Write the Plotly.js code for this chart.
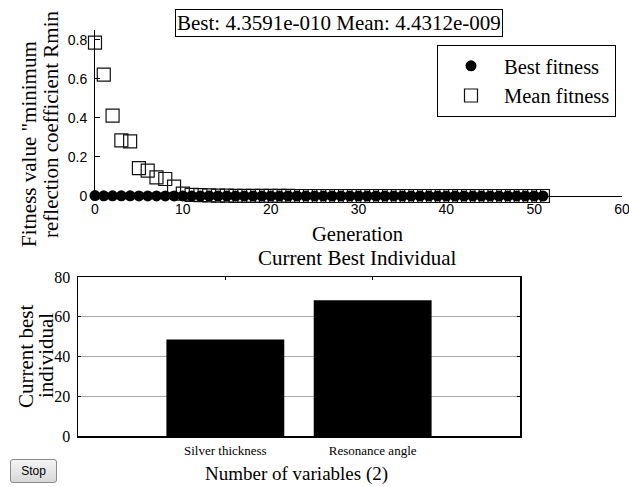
<!DOCTYPE html>
<html><head><meta charset="utf-8">
<script src="https://cdn.plot.ly/plotly-3.0.1.min.js"></script>
<style>
html,body{margin:0;padding:0;background:#fff;overflow:hidden;}
#chart{width:629px;height:487px;position:absolute;left:0;top:0;}
#stop{position:absolute;left:10px;top:459px;width:47px;height:24px;font:12px "Liberation Sans",Arial,sans-serif;background:linear-gradient(#f4f4f4,#d8d8d8);border:1px solid #8a8a8a;border-radius:3px;padding:0;}
</style></head>
<body>
<div id="chart"></div>
<button id="stop">Stop</button>
<script>
const generations = [0,1,2,3,4,5,6,7,8,9,10,11,12,13,14,15,16,17,18,19,20,21,22,23,24,25,26,27,28,29,30,31,32,33,34,35,36,37,38,39,40,41,42,43,44,45,46,47,48,49,50,51];
const bestFitness = [0.002,0.001,0.001,0.001,0.0008,0.0006,0.0005,0.0004,0.0003,0.0002,0.0001,0.0001,0.00005,0.00003,0.00002,0.00001,0.00001,0.000005,0.000003,0.000002,0.000001,0.000001,0.0000005,0.0000003,0.0000002,0.0000001,0.0000001,0.00000005,0.00000003,0.00000002,0.00000001,0.00000001,0.000000005,0.000000004,0.000000003,0.000000002,0.000000002,0.000000001,0.000000001,0.000000001,0.0000000009,0.0000000008,0.0000000007,0.0000000006,0.0000000006,0.0000000005,0.0000000005,0.0000000005,0.00000000045,0.00000000044,0.00000000044,0.00000000043591];
const meanFitness = [0.785,0.622,0.412,0.285,0.28,0.143,0.13,0.095,0.087,0.048,0.012,0.006,0.004,0.003,0.002,0.0015,0.001,0.0008,0.0006,0.0005,0.0004,0.0003,0.0002,0.0001,0.0001,0.00008,0.00006,0.00005,0.00004,0.00003,0.00002,0.00001,0.00001,0.000008,0.000006,0.000005,0.000004,0.000003,0.000002,0.000001,0.000001,0.0000008,0.0000006,0.0000005,0.0000004,0.0000003,0.0000002,0.0000001,0.00000005,0.00000002,0.00000001,0.0000000044312];
const variableNames = ["Silver thickness","Resonance angle"];
const bestIndividual = [48.5,68.3];
const titleText = "Best: 4.3591e-010 Mean: 4.4312e-009";

const serif = '"Liberation Serif","Times New Roman",Times,serif';
const sans = '"Liberation Sans",Arial,sans-serif';
const W = 629, H = 487;
const fx = p => p / W, fy = p => 1 - p / H;

const traces = [
  {x: generations, y: meanFitness, type: 'scatter', mode: 'markers', name: 'Mean fitness',
   legendrank: 2, xaxis: 'x', yaxis: 'y', cliponaxis: false,
   marker: {symbol: 'square-open', size: 13, color: '#111', line: {width: 1.2}}},
  {x: generations, y: bestFitness, type: 'scatter', mode: 'markers', name: 'Best fitness',
   legendrank: 1, xaxis: 'x', yaxis: 'y', cliponaxis: false,
   marker: {symbol: 'circle', size: 11, color: '#000', line: {width: 0}}},
  {x: variableNames, y: bestIndividual, type: 'bar', showlegend: false,
   xaxis: 'x2', yaxis: 'y2', width: 0.8, marker: {color: '#000', line: {width: 0}}}
];

const layout = {
  width: W, height: H,
  margin: {l: 0, r: 0, t: 0, b: 0},
  paper_bgcolor: '#fff', plot_bgcolor: 'rgba(0,0,0,0)',
  showlegend: true,
  legend: {x: fx(616), xanchor: 'right', y: fy(45), yanchor: 'top',
           bordercolor: '#000', borderwidth: 1, bgcolor: '#fff',
           font: {family: serif, size: 20.5, color: '#000'}, itemwidth: 56},
  xaxis: {domain: [fx(95), fx(622)], range: [0, 60], anchor: 'y',
          tickvals: [0,10,20,30,40,50,60], showgrid: false, zeroline: false,
          showline: true, linecolor: '#000', linewidth: 1,
          ticks: 'inside', ticklen: 4, tickcolor: '#000', ticklabeloverflow: 'allow',
          tickfont: {family: sans, size: 14, color: '#000'}},
  yaxis: {domain: [fy(196), fy(30)], range: [0, 0.85], anchor: 'x',
          tickvals: [0,0.2,0.4,0.6,0.8], ticktext: ['0','0.2','0.4','0.6','0.8'],
          showgrid: false, zeroline: false,
          showline: true, linecolor: '#000', linewidth: 1,
          ticks: 'inside', ticklen: 5, tickcolor: '#000', ticklabelstandoff: 4,
          tickfont: {family: sans, size: 14, color: '#000'}},
  xaxis2: {domain: [fx(78), fx(520)], range: [-1, 2], anchor: 'y2', type: 'category',
           showgrid: false, zeroline: false, showline: true, mirror: 'ticks',
           linecolor: '#000', linewidth: 1.5, ticks: 'inside', ticklen: 3, tickcolor: '#000',
           ticklabelstandoff: 2,
           tickfont: {family: serif, size: 13, color: '#000'}},
  yaxis2: {domain: [fy(436), fy(277)], range: [0, 80], anchor: 'x2',
           tickvals: [0,20,40,60,80], showgrid: true, gridcolor: '#a8a8a8', gridwidth: 1,
           zeroline: false, showline: true, mirror: 'ticks', linecolor: '#000', linewidth: 1.5,
           ticks: 'inside', ticklen: 3, tickcolor: '#000', ticklabelstandoff: 3,
           tickfont: {family: serif, size: 16, color: '#000'}},
  annotations: [
    {text: titleText, xref: 'paper', yref: 'paper', x: fx(339), y: fy(23),
     xanchor: 'center', yanchor: 'middle', showarrow: false,
     font: {family: serif, size: 21, color: '#000'}, bordercolor: '#000', borderwidth: 1,
     borderpad: 1, bgcolor: '#fff'},
    {text: 'Fitness value "minimum', xref: 'paper', yref: 'paper', x: fx(29), y: fy(144),
     xanchor: 'center', yanchor: 'middle', showarrow: false, textangle: -90,
     font: {family: serif, size: 21, color: '#000'}},
    {text: 'reflection coefficient Rmin', xref: 'paper', yref: 'paper', x: fx(51), y: fy(124),
     xanchor: 'center', yanchor: 'middle', showarrow: false, textangle: -90,
     font: {family: serif, size: 21, color: '#000'}},
    {text: 'Generation', xref: 'paper', yref: 'paper', x: fx(357), y: fy(234),
     xanchor: 'center', yanchor: 'middle', showarrow: false,
     font: {family: serif, size: 20.5, color: '#000'}},
    {text: 'Current Best Individual', xref: 'paper', yref: 'paper', x: fx(357), y: fy(258),
     xanchor: 'center', yanchor: 'middle', showarrow: false,
     font: {family: serif, size: 21, color: '#000'}},
    {text: 'Current best', xref: 'paper', yref: 'paper', x: fx(26), y: fy(356),
     xanchor: 'center', yanchor: 'middle', showarrow: false, textangle: -90,
     font: {family: serif, size: 21, color: '#000'}},
    {text: 'individual', xref: 'paper', yref: 'paper', x: fx(46), y: fy(356),
     xanchor: 'center', yanchor: 'middle', showarrow: false, textangle: -90,
     font: {family: serif, size: 21, color: '#000'}},
    {text: 'Number of variables (2)', xref: 'paper', yref: 'paper', x: fx(296), y: fy(474),
     xanchor: 'center', yanchor: 'middle', showarrow: false,
     font: {family: serif, size: 19, color: '#000'}}
  ]
};
Plotly.newPlot('chart', traces, layout, {displayModeBar: false, staticPlot: true});
</script>
</body></html>
